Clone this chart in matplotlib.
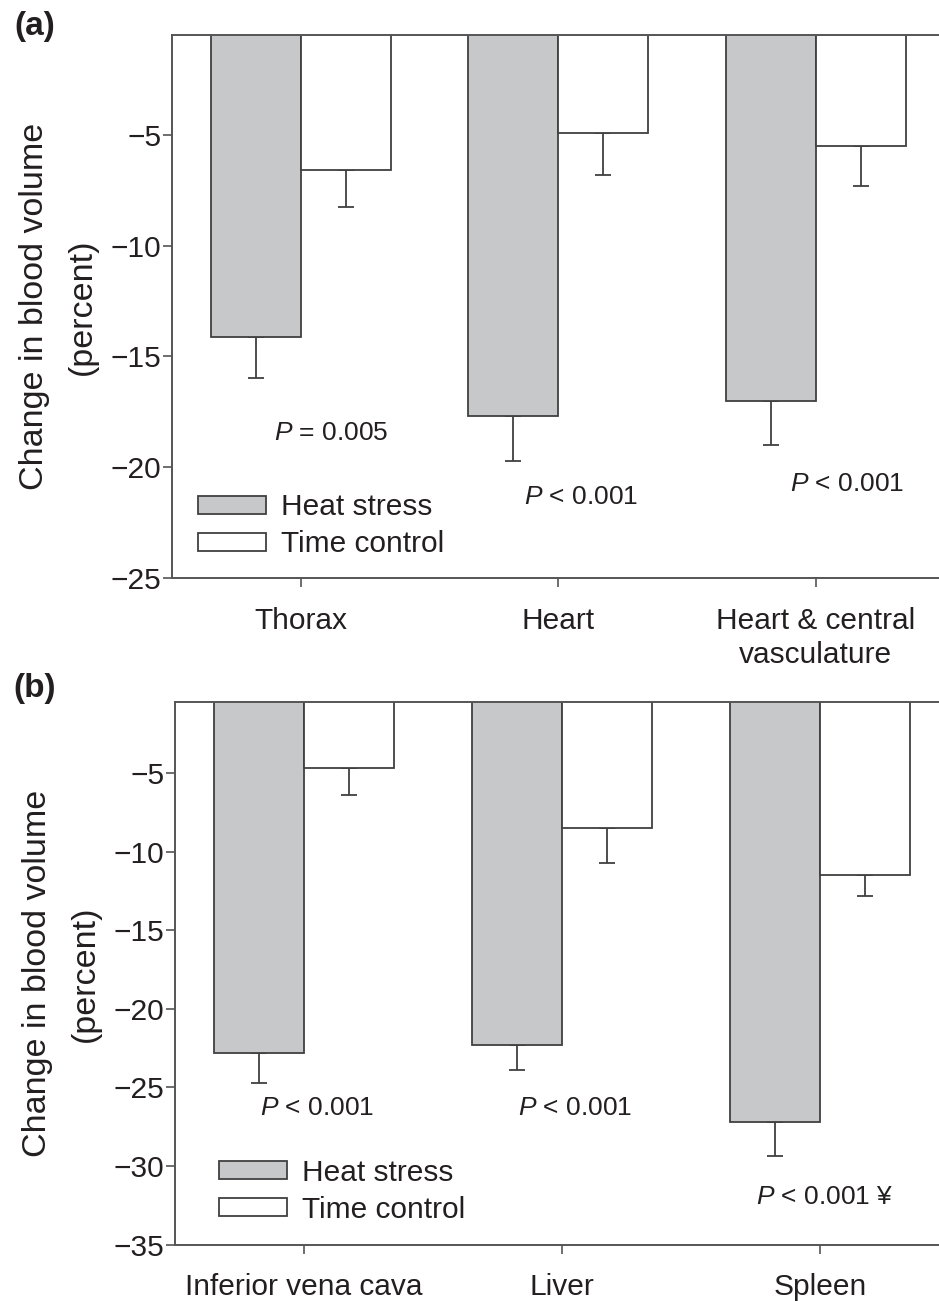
import matplotlib
matplotlib.use('Agg')
import matplotlib.pyplot as plt
import numpy as np
from matplotlib.patches import Patch

plt.rcParams['font.family'] = ['Liberation Sans', 'DejaVu Sans']
plt.rcParams['mathtext.fontset'] = 'custom'
plt.rcParams['mathtext.rm'] = 'Liberation Sans'
plt.rcParams['mathtext.it'] = 'Liberation Sans:italic'

# panel (a)
regions_a = ['Thorax', 'Heart', 'Heart & central\nvasculature']
heat_a = [-14.1, -17.7, -17.0]
heat_err_a = [1.85, 2.0, 1.98]
ctrl_a = [-6.6, -4.9, -5.5]
ctrl_err_a = [1.67, 1.9, 1.8]
pvals_a = ['$P$ = 0.005', '$P$ < 0.001', '$P$ < 0.001']
pos_a = [(0.12, -18.45), (1.09, -21.35), (2.12, -20.75)]

# panel (b)
regions_b = ['Inferior vena cava', 'Liver', 'Spleen']
heat_b = [-22.8, -22.3, -27.2]
heat_err_b = [1.9, 1.6, 2.18]
ctrl_b = [-4.7, -8.5, -11.5]
ctrl_err_b = [1.7, 2.2, 1.34]
pvals_b = ['$P$ < 0.001', '$P$ < 0.001', '$P$ < 0.001 ¥']
pos_b = [(0.05, -26.3), (1.05, -26.3), (2.02, -32.0)]

INK = '#231f20'
EDGE = '#404040'
SPINE = '#555555'
HEAT = '#c7c8ca'
W = 0.35


def draw_panel(ax, regions, heat, heat_err, ctrl, ctrl_err, pvals, pos, ymin, yticks):
    x = np.arange(len(regions))
    ax.bar(x - W / 2, heat, W, color=HEAT, edgecolor=EDGE, linewidth=1.3, zorder=2)
    ax.bar(x + W / 2, ctrl, W, color='white', edgecolor=EDGE, linewidth=1.3, zorder=2)
    ax.errorbar(x - W / 2, heat, yerr=[heat_err, np.zeros(len(x))], fmt='none',
                ecolor=EDGE, elinewidth=1.3, capsize=5.8, capthick=1.3, zorder=1)
    ax.errorbar(x + W / 2, ctrl, yerr=[ctrl_err, np.zeros(len(x))], fmt='none',
                ecolor=EDGE, elinewidth=1.3, capsize=5.8, capthick=1.3, zorder=1)

    for txt, (px, py) in zip(pvals, pos):
        ax.text(px, py, txt, ha='center', va='center', fontsize=19, color=INK)

    ax.set_xlim(-0.5, 2.5)
    ax.set_ylim(ymin, -0.5)
    ax.set_yticks(yticks)
    ax.set_yticklabels([f'\u2212{abs(t)}' for t in yticks])
    ax.set_xticks(x)
    ax.set_xticklabels(regions, linespacing=1.3)

    for s in ax.spines.values():
        s.set_color(SPINE)
        s.set_linewidth(1.4)
    ax.spines['right'].set_visible(False)
    ax.tick_params(axis='y', length=6.2, width=1.2, color=SPINE, pad=1.5,
                   labelsize=21.5, labelcolor=INK)
    ax.tick_params(axis='x', length=6.5, width=1.2, color=SPINE, pad=14,
                   labelsize=21.5, labelcolor=INK)

    ax.set_ylabel('Change in blood volume\n(percent)', fontsize=24.5, color=INK,
                  linespacing=1.7, va='center')
    ax.yaxis.set_label_coords(-0.147, 0.5)

    handles = [Patch(facecolor=HEAT, edgecolor=EDGE, linewidth=1.3, label='Heat stress'),
               Patch(facecolor='white', edgecolor=EDGE, linewidth=1.3, label='Time control')]
    return handles


fig = plt.figure(figsize=(9.39, 13.01), dpi=100)
ax_a = fig.add_axes([0.1832, 0.5557, 0.8227, 0.4172])
ax_b = fig.add_axes([0.1864, 0.0434, 0.8243, 0.4168])

h = draw_panel(ax_a, regions_a, heat_a, heat_err_a, ctrl_a, ctrl_err_a, pvals_a, pos_a,
               -25, [-5, -10, -15, -20, -25])
ax_a.legend(handles=h, loc='upper left', bbox_to_anchor=(0.0337, 0.156), frameon=False,
            fontsize=21.5, borderpad=0, borderaxespad=0, handlelength=2.27,
            handleheight=0.53, handletextpad=0.5, labelspacing=0.3, labelcolor=INK)

h = draw_panel(ax_b, regions_b, heat_b, heat_err_b, ctrl_b, ctrl_err_b, pvals_b, pos_b,
               -35, [-5, -10, -15, -20, -25, -30, -35])
ax_b.legend(handles=h, loc='upper left', bbox_to_anchor=(0.0568, 0.158), frameon=False,
            fontsize=21.5, borderpad=0, borderaxespad=0, handlelength=2.27,
            handleheight=0.53, handletextpad=0.5, labelspacing=0.3, labelcolor=INK)

fig.text(14 / 939, 1 - 26 / 1301, '(a)', fontsize=24, fontweight='bold', color=INK,
         ha='left', va='center')
fig.text(13 / 939, 1 - 689 / 1301, '(b)', fontsize=24, fontweight='bold', color=INK,
         ha='left', va='center')

fig.savefig('out.png', dpi=100)
